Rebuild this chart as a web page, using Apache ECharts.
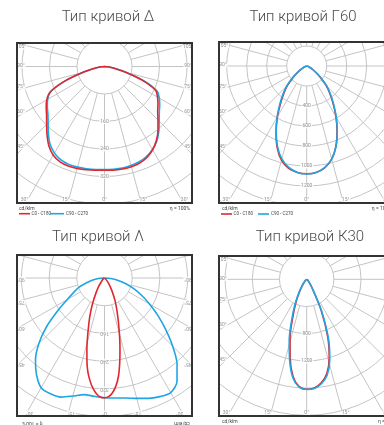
<!DOCTYPE html>
<html>
<head>
<meta charset="utf-8">
<script src="https://cdn.jsdelivr.net/npm/echarts@6/dist/echarts.min.js"></script>
<style>
  html, body { margin: 0; padding: 0; width: 384px; height: 425px; overflow: hidden; background: #fff; }
  #page { position: absolute; left: 0; top: 0; width: 384px; height: 425px; }
  .box { position: absolute; }
</style>
</head>
<body>
<div id="page"></div>
<div class="box" id="box1" style="left:16px;top:42px;width:177px;height:162px"></div>
<div class="box" id="box2" style="left:218px;top:41px;width:177px;height:163px"></div>
<div class="box" id="box3" style="left:16px;top:254px;width:177px;height:163px"></div>
<div class="box" id="box4" style="left:218px;top:255px;width:177px;height:162px"></div>
<script>
// ---- titles and captions ----
const titles = ['Тип кривой Δ', 'Тип кривой Г60', 'Тип кривой Λ', 'Тип кривой К30'];
const unitText = 'cd/klm';
const effText = 'η = 100%';
const legendNames = ['C0 - C180', 'C90 - C270'];
const angleTicks = [105, 90, 75, 60, 45, 30, 15, 0];

// ---- Тип кривой Δ (cd/klm), gamma angles from nadir ----
const deltaAngles = [0, 5, 10, 15, 20, 25, 30, 35, 40, 45, 50, 55, 60, 65, 70, 75, 80, 85, 90];
const deltaC0Left  = [302, 303, 305, 307, 308, 306, 298, 282, 260, 238, 220, 207, 194, 174, 122, 64, 29, 10, 0];
const deltaC0Right = [302, 303, 303, 302, 299, 292, 280, 263, 242, 220, 202, 190, 178, 164, 118, 62, 28, 10, 0];
const deltaC90Left  = [300, 301, 302, 303, 303, 300, 291, 276, 254, 232, 215, 203, 191, 172, 120, 63, 28, 10, 0];
const deltaC90Right = [300, 300, 300, 298, 295, 289, 279, 265, 246, 225, 208, 196, 184, 168, 121, 64, 29, 10, 0];
const deltaRings = [160, 240, 320];

// ---- Тип кривой Г60 ----
const g60Angles = [0, 5, 10, 15, 20, 25, 30, 35, 40, 45, 50, 55, 60, 65, 70, 75, 80, 85, 90];
const g60C0Left  = [1078, 1068, 1040, 975, 865, 725, 585, 455, 355, 268, 178, 105, 62, 35, 18, 9, 4, 1, 0];
const g60C0Right = [1078, 1070, 1035, 965, 855, 718, 585, 462, 362, 276, 185, 110, 65, 36, 19, 9, 4, 1, 0];
const g60C90Left  = [1080, 1068, 1030, 962, 855, 722, 592, 470, 370, 282, 190, 115, 68, 38, 20, 10, 4, 1, 0];
const g60C90Right = [1080, 1068, 1032, 964, 857, 724, 592, 470, 370, 282, 190, 115, 68, 38, 20, 10, 4, 1, 0];
const g60Rings = [400, 600, 800, 1000, 1200];

// ---- Тип кривой Λ ----
const lambdaNarrowAngles = [0, 2, 4, 6, 8, 10, 12, 14, 16, 18, 21, 25, 30, 35, 40, 50, 60, 70, 90];
const lambdaC0Left  = [346, 344, 335, 320, 300, 276, 244, 210, 178, 150, 118, 82, 48, 28, 15, 6, 2, 0, 0];
const lambdaC0Right = [346, 343, 332, 314, 288, 252, 215, 182, 152, 128, 100, 72, 43, 25, 13, 5, 2, 0, 0];
const lambdaWideAngles = [0, 5, 10, 15, 20, 25, 30, 35, 40, 45, 50, 55, 60, 65, 70, 75, 80, 85, 90];
const lambdaC90Left  = [346, 343, 342, 353, 366, 369, 366, 342, 310, 268, 218, 165, 124, 98, 78, 55, 36, 18, 0];
const lambdaC90Right = [346, 348, 352, 360, 370, 378, 382, 365, 326, 278, 230, 188, 150, 118, 90, 64, 40, 18, 0];
const lambdaRings = [160, 240, 320];

// ---- Тип кривой К30 ----
const k30Angles = [0, 4, 8, 12, 16, 20, 25, 30, 35, 40, 50, 60, 70, 80, 90];
const k30C0Left  = [1618, 1583, 1444, 1173, 889, 604, 373, 211, 110, 55, 18, 7, 3, 1, 0];
const k30C0Right = [1618, 1603, 1537, 1419, 1203, 908, 506, 194, 98, 49, 17, 7, 3, 1, 0];
const k30C90Left  = [1620, 1591, 1463, 1208, 933, 653, 412, 236, 123, 61, 20, 8, 3, 1, 0];
const k30C90Right = [1620, 1610, 1552, 1444, 1232, 943, 520, 206, 103, 51, 18, 7, 3, 1, 0];
const k30Rings = [800, 1200];

const GRID = '#c4c4c4';
const RED = '#e2262d';
const BLUE = '#1ea6e4';
const FRAME = '#333333';
const FONT = 'Roboto, "Open Sans", "DejaVu Sans", sans-serif';

// Closed outline: left half (angle a) from 90° down to nadir, then right half (360 - a).
function outline(angles, left, right) {
  const pts = [];
  for (let i = angles.length - 1; i >= 0; i--) pts.push([left[i], angles[i]]);
  for (let i = 1; i < angles.length; i++) pts.push([right[i], 360 - angles[i]]);
  return pts;
}

function curve(data, color) {
  return {
    type: 'line', coordinateSystem: 'polar', data: data, smooth: 0.3,
    symbol: 'none', silent: true, z: 3,
    lineStyle: { color: color, width: 1.6 }
  };
}

function polarPanel(id, cfg) {
  const el = document.getElementById(id);
  const w = el.clientWidth, h = el.clientHeight;
  const chart = echarts.init(el, null, { renderer: 'canvas' });
  const cx = cfg.cx, cy = cfg.cy;
  const R = cfg.max * cfg.scale;
  const rot = cfg.flipText ? 180 : 0;
  const series = [];

  // radial spokes every 15°, starting at the first ring
  for (let a = 0; a < 360; a += 15) {
    series.push({
      type: 'line', coordinateSystem: 'polar', silent: true, symbol: 'none', z: 1,
      data: [[cfg.step, a], [cfg.max, a]],
      lineStyle: { color: GRID, width: 1 }
    });
  }

  cfg.curves.forEach(c => series.push(curve(c.data, c.color)));

  // intensity values along the nadir axis
  series.push({
    type: 'scatter', coordinateSystem: 'polar', silent: true, z: 5,
    symbolSize: 1, itemStyle: { color: 'rgba(0,0,0,0)' },
    data: cfg.rings.map(v => [v, 0]),
    label: {
      show: true, position: 'inside', rotate: rot,
      formatter: p => String(p.value[0]),
      fontFamily: FONT, fontSize: 5, color: '#777',
      backgroundColor: '#fff', padding: [0, 1]
    }
  });

  // angle marks where each spoke leaves the frame
  const angleData = [];
  angleTicks.forEach(a => {
    const sides = a === 0 ? [1] : [-1, 1];
    sides.forEach(sgn => {
      const rad = a * Math.PI / 180;
      const sx = Math.sin(rad), cy0 = Math.cos(rad);
      const tSide = sx > 1e-6 ? (sgn < 0 ? cx - 5 : w - 5 - cx) / sx : Infinity;
      const tBottom = cy0 > 1e-6 ? (h - 4 - cy) / cy0 : Infinity;
      const t = Math.min(tSide, tBottom);
      const py = cy + t * cy0;
      let off;
      if (tSide <= tBottom) {
        let dy = -(1 + 3 * Math.max(cy0, 0));
        if (py + dy < 5) dy = 5 - py;
        off = [0, dy];
      } else {
        off = [a === 0 ? 0 : sgn * 3, 0];
      }
      angleData.push({
        value: [t / cfg.scale, sgn < 0 ? a : (360 - a) % 360],
        label: { offset: off, formatter: a + '°' }
      });
    });
  });
  series.push({
    type: 'scatter', coordinateSystem: 'polar', silent: true, z: 5,
    symbolSize: 1, itemStyle: { color: 'rgba(0,0,0,0)' },
    data: angleData,
    label: {
      show: true, position: 'inside', rotate: rot,
      fontFamily: FONT, fontSize: 5, color: '#777',
      backgroundColor: '#fff', padding: [0, 1]
    }
  });

  chart.setOption({
    animation: false,
    polar: { center: [cx, cy], radius: R },
    angleAxis: {
      type: 'value', min: 0, max: 360, startAngle: 270, clockwise: true,
      axisLine: { show: false }, axisTick: { show: false },
      axisLabel: { show: false }, splitLine: { show: false }
    },
    radiusAxis: {
      type: 'value', min: 0, max: cfg.max, interval: cfg.step,
      axisLine: { show: false }, axisTick: { show: false }, axisLabel: { show: false },
      splitLine: { show: true, lineStyle: { color: GRID, width: 1 } }
    },
    graphic: [{
      type: 'rect', z: 100, silent: true,
      shape: { x: 1, y: 1, width: w - 2, height: h - 2 },
      style: { fill: 'none', stroke: FRAME, lineWidth: 2 }
    }],
    series: series
  });
}

polarPanel('box1', {
  cx: 88.5, cy: 24.5, scale: 27.5 / 80, step: 80, max: 480, rings: deltaRings,
  curves: [
    { data: outline(deltaAngles, deltaC90Left, deltaC90Right), color: BLUE },
    { data: outline(deltaAngles, deltaC0Left, deltaC0Right), color: RED }
  ]
});
polarPanel('box2', {
  cx: 88.7, cy: 25, scale: 0.1, step: 200, max: 1800, rings: g60Rings,
  curves: [
    { data: outline(g60Angles, g60C0Left, g60C0Right), color: RED },
    { data: outline(g60Angles, g60C90Left, g60C90Right), color: BLUE }
  ]
});
polarPanel('box3', {
  cx: 88.5, cy: 24, scale: 27.7 / 80, step: 80, max: 480, rings: lambdaRings, flipText: true,
  curves: [
    { data: outline(lambdaWideAngles, lambdaC90Left, lambdaC90Right), color: BLUE },
    { data: outline(lambdaNarrowAngles, lambdaC0Left, lambdaC0Right), color: RED }
  ]
});
polarPanel('box4', {
  cx: 88.7, cy: 24.3, scale: 27.2 / 400, step: 400, max: 2800, rings: k30Rings,
  curves: [
    { data: outline(k30Angles, k30C0Left, k30C0Right), color: RED },
    { data: outline(k30Angles, k30C90Left, k30C90Right), color: BLUE }
  ]
});

// ---- page layer: titles, units, legends ----
const page = echarts.init(document.getElementById('page'), null, { renderer: 'canvas' });
const titlePos = [[108, 17], [303, 17], [98, 237], [310, 237]];
const g = [];
titles.forEach((t, i) => g.push({
  type: 'text', x: titlePos[i][0], y: titlePos[i][1], silent: true,
  style: { text: t, fill: '#4a4a4a', font: '300 15px ' + FONT, textAlign: 'center', textVerticalAlign: 'middle' }
}));
function small(text, x, y, align, size, rotate) {
  g.push({
    type: 'text', x: x, y: y, rotation: rotate ? Math.PI : 0, silent: true,
    style: { text: text, fill: '#444', font: size + 'px ' + FONT, textAlign: align, textVerticalAlign: 'middle' }
  });
}
function legendLine(x1, x2, y, color) {
  g.push({ type: 'line', silent: true, shape: { x1: x1, y1: y, x2: x2, y2: y }, style: { stroke: color, lineWidth: 1.6 } });
}
// Δ
small(unitText, 19, 208.7, 'left', 5);
small(effText, 190, 208.7, 'right', 5);
legendLine(19, 30, 213.7, RED);  small(legendNames[0], 31.5, 213.7, 'left', 4.5);
legendLine(50, 64, 213.7, BLUE); small(legendNames[1], 66, 213.7, 'left', 4.5);
// Г60
small(unitText, 222, 208.7, 'left', 5);
small(effText, 392, 208.7, 'right', 5);
legendLine(221, 232, 214, RED);  small(legendNames[0], 233.5, 214, 'left', 4.5);
legendLine(258, 269, 214, BLUE); small(legendNames[1], 271, 214, 'left', 4.5);
// Λ
small(effText, 32.5, 423, 'center', 5, true);
small(unitText, 182, 423, 'center', 5, true);
// К30
small(unitText, 222, 421.7, 'left', 5);
small(effText, 378, 421.7, 'left', 5);

page.setOption({ animation: false, graphic: g });
</script>
</body>
</html>
